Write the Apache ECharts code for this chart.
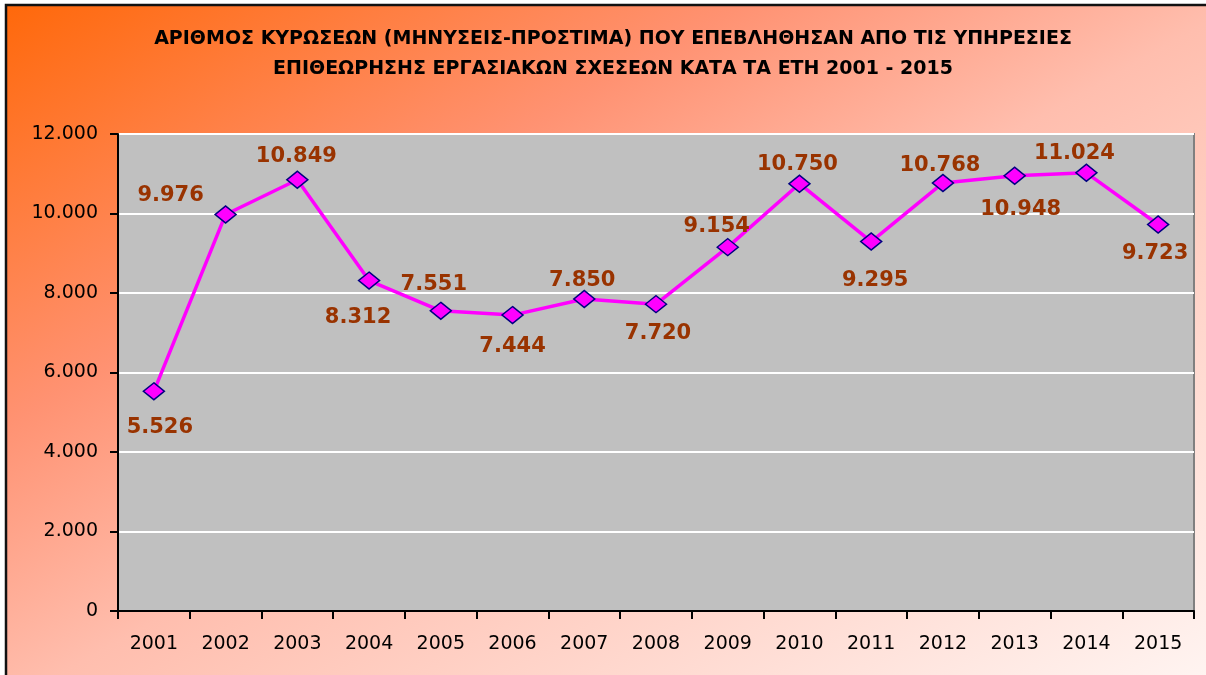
<!DOCTYPE html>
<html>
<head>
<meta charset="utf-8">
<script src="https://cdn.jsdelivr.net/npm/echarts@6/dist/echarts.min.js"></script>
<style>
html,body{margin:0;padding:0;background:#fff;}
#chart{width:1206px;height:675px;}
</style>
</head>
<body>
<div id="chart"></div>
<script>
// ---- data ----
const titleLines = [
  'ΑΡΙΘΜΟΣ ΚΥΡΩΣΕΩΝ (ΜΗΝΥΣΕΙΣ-ΠΡΟΣΤΙΜΑ) ΠΟΥ ΕΠΕΒΛΗΘΗΣΑΝ ΑΠΟ ΤΙΣ ΥΠΗΡΕΣΙΕΣ',
  'ΕΠΙΘΕΩΡΗΣΗΣ ΕΡΓΑΣΙΑΚΩΝ ΣΧΕΣΕΩΝ ΚΑΤΑ ΤΑ ΕΤΗ 2001 - 2015'
];
const years = ['2001','2002','2003','2004','2005','2006','2007','2008','2009','2010','2011','2012','2013','2014','2015'];
const sanctions = [5526, 9976, 10849, 8312, 7551, 7444, 7850, 7720, 9154, 10750, 9295, 10768, 10948, 11024, 9723];
const yTicks = [0, 2000, 4000, 6000, 8000, 10000, 12000];

// ---- layout (label offsets relative to each marker, px) ----
const labelOffsets = [
  [6, 36], [-55, -19], [-1, -23], [-11, 37], [-7, -26], [0, 31], [-2, -18], [2, 29],
  [-11, -21], [-2, -19], [4, 39], [-3, -17], [6, 34], [-12, -19], [-3, 29]
];

function fmt(v) {
  return String(v).replace(/\B(?=(\d{3})+(?!\d))/g, '.');
}

const chart = echarts.init(document.getElementById('chart'), null, {renderer: 'canvas'});

const W = 1230, H = 700;
chart.setOption({
  backgroundColor: '#ffffff',
  animation: false,
  graphic: [{
    type: 'rect',
    z: -10,
    silent: true,
    shape: {x: 6, y: 5, width: W, height: H},
    style: {
      fill: new echarts.graphic.LinearGradient(0, 0, 0.489, 1.511, [
        {offset: 0, color: '#FF680A'},
        {offset: 0.3, color: '#FF9272'},
        {offset: 0.5, color: '#FFBEAE'},
        {offset: 1, color: '#FFF8F6'}
      ]),
      stroke: '#111111',
      lineWidth: 2.5
    }
  }],
  title: [{
    text: titleLines.join('\n'),
    left: 608,
    top: 19,
    textAlign: 'center',
    textStyle: {
      fontFamily: 'DejaVu Sans',
      fontWeight: 'bold',
      fontSize: 19,
      lineHeight: 30,
      color: '#000000'
    }
  }],
  grid: {
    left: 118, right: 12, top: 134, bottom: 64,
    show: true,
    backgroundColor: '#C0C0C0',
    borderColor: '#808080',
    borderWidth: 2
  },
  xAxis: {
    type: 'category',
    data: years,
    boundaryGap: true,
    axisLine: {lineStyle: {color: '#000000', width: 2}},
    axisTick: {show: true, length: 8, lineStyle: {color: '#000000', width: 2}},
    axisLabel: {
      margin: 24,
      fontFamily: 'DejaVu Sans',
      fontSize: 19,
      color: '#000000'
    },
    splitLine: {show: false}
  },
  yAxis: {
    type: 'value',
    min: yTicks[0],
    max: yTicks[yTicks.length - 1],
    interval: yTicks[1] - yTicks[0],
    axisLine: {show: true, lineStyle: {color: '#000000', width: 2}},
    axisTick: {show: true, length: 8, lineStyle: {color: '#000000', width: 2}},
    axisLabel: {
      margin: 20,
      fontFamily: 'DejaVu Sans',
      fontSize: 19,
      color: '#000000',
      formatter: v => fmt(v)
    },
    splitLine: {show: true, lineStyle: {color: '#FFFFFF', width: 2}}
  },
  series: [{
    type: 'line',
    data: sanctions.map((v, i) => ({
      value: v,
      label: {offset: labelOffsets[i]}
    })),
    lineStyle: {color: '#FF00FF', width: 3.5},
    symbol: 'diamond',
    symbolSize: [21, 17],
    itemStyle: {color: '#FF00FF', borderColor: '#000080', borderWidth: 1.5},
    label: {
      show: true,
      position: 'inside',
      align: 'center',
      verticalAlign: 'middle',
      fontFamily: 'DejaVu Sans',
      fontWeight: 'bold',
      fontSize: 21,
      color: '#993300',
      formatter: p => fmt(p.value)
    },
    z: 5
  }]
});
</script>
</body>
</html>
